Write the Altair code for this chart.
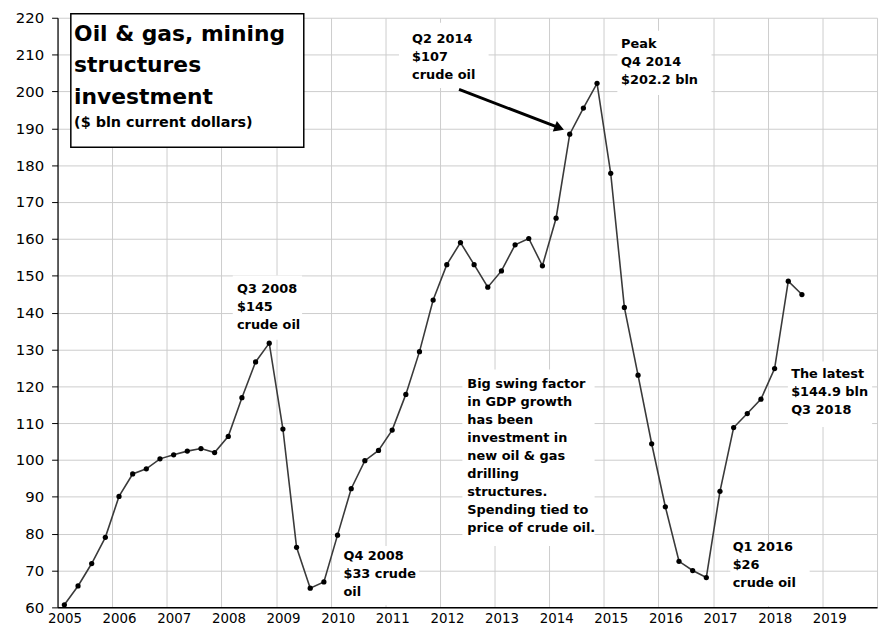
import altair as alt
import pandas as pd

# ---- data -------------------------------------------------------------
periods = [f"{y} Q{q}" for y in range(2005, 2019) for q in range(1, 5)][:55]
values = [
    60.7, 65.8, 71.9, 79.0,      # 2005
    90.1, 96.2, 97.6, 100.3,     # 2006
    101.4, 102.4, 103.1, 102.0,  # 2007
    106.4, 116.9, 126.6, 131.7,  # 2008
    108.4, 76.3, 65.2, 66.9,     # 2009
    79.6, 92.2, 99.8, 102.6,     # 2010
    108.1, 117.8, 129.4, 143.4,  # 2011
    153.0, 159.0, 153.0, 146.9,  # 2012
    151.3, 158.4, 160.1, 152.7,  # 2013
    165.6, 188.4, 195.5, 202.2,  # 2014
    177.8, 141.4, 123.0, 104.4,  # 2015
    87.3, 72.5, 70.0, 68.1,      # 2016
    91.5, 108.8, 112.6, 116.5,   # 2017
    124.8, 148.5, 144.9,         # 2018
]
year_ticks = list(range(2005, 2021))
value_ticks = list(range(60, 221, 10))

title_lines = "Oil & gas, mining\nstructures\ninvestment"
subtitle = "($ bln current dollars)"

note_texts = [
    "Q3 2008\n$145\ncrude oil",
    "Q4 2008\n$33 crude\noil",
    "Big swing factor\nin GDP growth\nhas been\ninvestment in\nnew oil & gas\ndrilling\nstructures.\nSpending tied to\nprice of crude oil.",
    "Q2 2014\n$107\ncrude oil",
    "Peak\nQ4 2014\n$202.2 bln",
    "Q1 2016\n$26\ncrude oil",
    "The latest\n$144.9 bln\nQ3 2018",
]
# annotation anchor (left x / first baseline y) in data units
note_x = [2008.284, 2010.233, 2012.501, 2011.49, 2015.314, 2017.357, 2018.428]
note_y = [145.33, 72.99, 119.62, 213.28, 211.93, 75.25, 122.31]
# white label boxes behind annotations
box_x = [2008.207, 2010.168, 2012.41, 2011.25, 2015.247, 2017.315, 2018.368]
box_x2 = [2009.476, 2011.62, 2014.83, 2012.89, 2016.97, 2018.767, 2019.91]
box_y = [150.09, 76.68, 124.54, 218.66, 216.5, 77.22, 126.7]
box_y2 = [132.61, 60.55, 76.68, 200.91, 199.03, 60.27, 108.95]

df = pd.DataFrame({"period": periods, "value": values})
df["t"] = [int(p[:4]) + (int(p[-1]) - 0.5) / 4 for p in periods]

FONT = "DejaVu Sans"
xs = alt.Scale(domain=[2005, 2020], nice=False, zero=False)
ys = alt.Scale(domain=[60, 220], nice=False, zero=False)

x_axis = alt.Axis(
    values=year_ticks, format="d", title=None, grid=True, ticks=False,
    labelExpr="datum.value >= 2020 ? '' : datum.label",
    labelOffset=7, labelPadding=4, labelFlush=False, labelOverlap=False,
    labelFont=FONT, labelFontSize=13.5, labelColor="black",
    domainColor="black", domainWidth=1.5,
    gridColor="#cccccc", gridWidth=1,
)
y_axis = alt.Axis(
    values=value_ticks, title=None, grid=True,
    tickSize=6, tickColor="black", tickWidth=1,
    labelPadding=8, labelFont=FONT, labelFontSize=15, labelColor="black",
    labelFlush=False, labelOverlap=False,
    domainColor="black", domainWidth=1.2,
    gridColor="#cccccc", gridWidth=1,
)


def X(field):
    return alt.X(field, scale=xs, axis=x_axis)


def Y(field):
    return alt.Y(field, scale=ys, axis=y_axis)


line = alt.Chart(df).mark_line(color="#3a3a3a", strokeWidth=1.6).encode(
    x=X("t:Q"), y=Y("value:Q"),
)
points = alt.Chart(df).mark_circle(color="black", size=28, opacity=1).encode(
    x=X("t:Q"), y=Y("value:Q"),
)

boxes_df = pd.DataFrame({"x": box_x, "x2": box_x2, "y": box_y, "y2": box_y2})
boxes = alt.Chart(boxes_df).mark_rect(color="white").encode(
    x=X("x:Q"), x2="x2:Q", y=Y("y:Q"), y2="y2:Q",
)

notes_df = pd.DataFrame({"text": note_texts, "x": note_x, "y": note_y})
notes = alt.Chart(notes_df).mark_text(
    font=FONT, fontSize=13, fontWeight="bold", color="black",
    align="left", baseline="alphabetic", lineBreak="\n", lineHeight=18.2,
).encode(
    x=X("x:Q"), y=Y("y:Q"), text="text:N",
)

title_box_df = pd.DataFrame({"x": [2005.243], "x2": [2009.507], "y": [221.08], "y2": [184.86]})
title_box = alt.Chart(title_box_df).mark_rect(
    fill="white", stroke="black", strokeWidth=1.5
).encode(
    x=X("x:Q"), x2="x2:Q", y=Y("y:Q"), y2="y2:Q",
)
title_df = pd.DataFrame({"text": [title_lines], "x": [2005.303], "y": [213.73]})
title_text = alt.Chart(title_df).mark_text(
    font=FONT, fontSize=22, fontWeight="bold", color="black",
    align="left", baseline="alphabetic", lineBreak="\n", lineHeight=31.7,
).encode(
    x=X("x:Q"), y=Y("y:Q"), text="text:N",
)
sub_df = pd.DataFrame({"text": [subtitle], "x": [2005.303], "y": [190.42]})
sub_text = alt.Chart(sub_df).mark_text(
    font=FONT, fontSize=14.5, fontWeight="bold", color="black",
    align="left", baseline="alphabetic",
).encode(
    x=X("x:Q"), y=Y("y:Q"), text="text:N",
)

arrow_df = pd.DataFrame({"x": [2012.349], "y": [200.56], "x2": [2014.139], "y2": [190.37]})
arrow = alt.Chart(arrow_df).mark_rule(color="black", strokeWidth=3).encode(
    x=X("x:Q"), x2="x2:Q", y=Y("y:Q"), y2="y2:Q",
)
head_df = pd.DataFrame({"x": [2014.185], "y": [190.10]})
head = alt.Chart(head_df).mark_point(
    shape="triangle-right", filled=True, size=130, angle=21,
    color="black", opacity=1,
).encode(
    x=X("x:Q"), y=Y("y:Q"),
)

chart = alt.layer(
    line, boxes, points, notes, title_box, title_text, sub_text, arrow, head
).properties(
    width=827, height=595,
    autosize=alt.AutoSizeParams(type="none"),
    padding={"left": 50, "top": 7, "right": 5, "bottom": 22},
    background="white",
).configure_view(stroke=None)

chart.save("out.html", embed_options={"renderer": "svg", "actions": False})
